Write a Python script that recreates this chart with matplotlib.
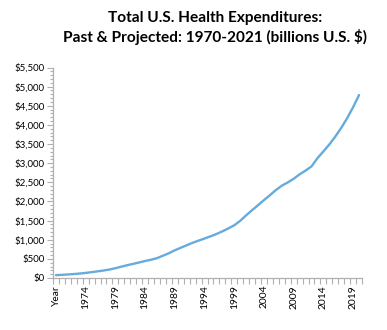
import matplotlib
matplotlib.use("Agg")
import matplotlib.pyplot as plt
from matplotlib.ticker import FuncFormatter, MultipleLocator, FixedLocator

categories = ["Year"] + [str(y) for y in range(1970, 2021)]
spending = [74.6, 82.7, 92.7, 102.8, 116.5, 133.3, 152.7, 173.9, 195.3, 221.5,
            255.3, 296.2, 334.7, 369.0, 406.5, 444.6, 476.9, 519.1, 581.8, 647.5,
            724.3, 789.9, 855.9, 920.8, 976.6, 1031.7, 1088.7, 1149.1, 1219.1, 1294.7,
            1377.2, 1493.3, 1637.0, 1772.2, 1901.6, 2035.4, 2163.3, 2297.1, 2411.7, 2495.8,
            2593.6, 2708.6, 2806.6, 2915.5, 3130.2, 3307.3, 3488.5, 3693.6, 3921.1, 4175.0,
            4462.4, 4781.0]
title = "Total U.S. Health Expenditures:\nPast & Projected: 1970-2021 (billions U.S. $)"

plt.rcParams['font.family'] = ['Lato', 'DejaVu Sans']

fig = plt.figure(figsize=(3.87, 3.30), dpi=100)
ax = fig.add_axes([53/387, (330-278)/330, 309/387, 210.5/330])

x = list(range(len(categories)))
ax.plot(x, spending, color="#66ABDD", lw=1.7, solid_capstyle="round")

ax.set_xlim(-0.5, len(categories) - 0.5)
ax.set_ylim(0, 5500)

ax.yaxis.set_major_locator(MultipleLocator(500))
ax.yaxis.set_minor_locator(MultipleLocator(100))
ax.yaxis.set_major_formatter(FuncFormatter(lambda v, p: "${:,.0f}".format(v)))

label_pos = list(range(0, len(categories), 5))
ax.set_xticks(label_pos)
ax.set_xticklabels([categories[i] for i in label_pos], rotation=90)
ax.xaxis.set_minor_locator(FixedLocator([i - 0.5 for i in range(len(categories) + 1)]))
ax.tick_params(axis="x", which="major", length=0, pad=5, labelsize=7.4)
ax.tick_params(axis="x", which="minor", length=4, color="#B0B0B0", width=0.8)
ax.tick_params(axis="y", which="major", length=4, color="#B0B0B0", width=0.8, labelsize=7.0, pad=2)
ax.tick_params(axis="y", which="minor", length=2, color="#B0B0B0", width=0.8)

for s in ["top", "right"]:
    ax.spines[s].set_visible(False)
for s in ["left", "bottom"]:
    ax.spines[s].set_color("#B0B0B0")
    ax.spines[s].set_linewidth(0.9)

fig.text(215/387, 1 - 28/330, title, ha="center", va="center", fontsize=11.1,
         fontweight="bold", linespacing=1.3)

fig.savefig("out.png", dpi=100)
